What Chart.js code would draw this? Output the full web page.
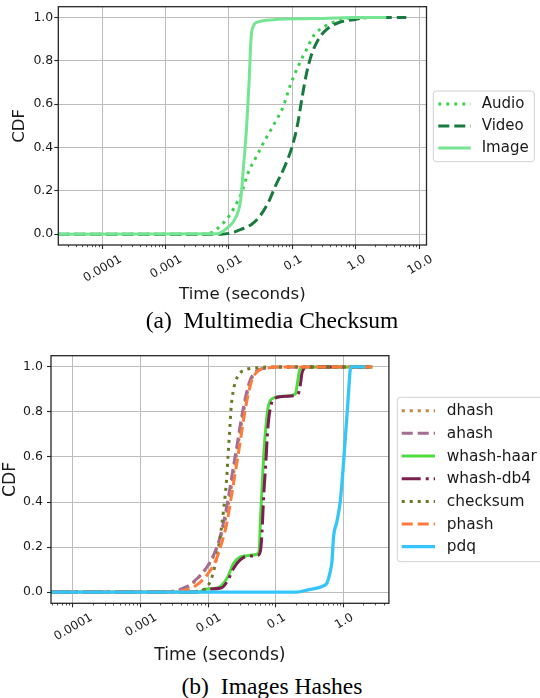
<!DOCTYPE html>
<html><head><meta charset="utf-8">
<script src="https://cdn.jsdelivr.net/npm/chart.js@4.4.1/dist/chart.umd.min.js"></script>
<style>
html,body{margin:0;padding:0;background:#fff;width:540px;height:698px;overflow:hidden;}
.wrap{position:absolute;left:0;width:540px;}
.cap{position:absolute;left:0;width:544px;text-align:center;font-family:'Liberation Serif','Times New Roman',serif;font-size:23.5px;line-height:24px;color:#000;white-space:nowrap;}
</style></head><body>
<div class="wrap" style="top:0;height:310px"><canvas id="c1" width="540" height="310"></canvas></div>
<div class="wrap" style="top:340px;height:330px"><canvas id="c2" width="540" height="330"></canvas></div>
<div class="cap" style="top:308px"><span style="margin-right:6px">(a)</span> Multimedia Checksum</div>
<div class="cap" style="top:674px"><span style="margin-right:6px">(b)</span> Images Hashes</div>
<script>
const FONT = "'DejaVu Sans', 'Liberation Sans', sans-serif";

// ---------- (a) Multimedia Checksum ----------
const seriesA = ['Audio', 'Video', 'Image'];
const audioTime = [0.0000205, 0.0045, 0.0054, 0.0064, 0.0092, 0.0117, 0.0158, 0.0201, 0.0273, 0.0347, 0.053, 0.0716, 0.0912, 0.123, 0.167, 0.213, 0.325, 0.5, 0.9, 3.0];
const audioCdf  = [0, 0, 0.008, 0.023, 0.069, 0.115, 0.192, 0.284, 0.361, 0.42, 0.515, 0.59, 0.683, 0.776, 0.853, 0.914, 0.96, 0.983, 0.998, 1.0];
const videoTime = [0.0000205, 0.0075, 0.011, 0.0158, 0.0228, 0.0308, 0.0416, 0.054, 0.0762, 0.0994, 0.119, 0.14, 0.163, 0.196, 0.255, 0.346, 0.526, 0.906, 1.5, 6.2];
const videoCdf  = [0, 0, 0.006, 0.023, 0.046, 0.084, 0.146, 0.223, 0.315, 0.407, 0.5, 0.622, 0.73, 0.822, 0.899, 0.945, 0.976, 0.99, 1.0, 1.0];
const imageTime = [0.0000205, 0.0065, 0.0095, 0.0124, 0.0153, 0.0168, 0.019, 0.0207, 0.0222, 0.0241, 0.0289, 0.05, 0.21, 1.0, 3.0];
const imageCdf  = [0, 0.002, 0.03, 0.07, 0.16, 0.3, 0.5, 0.7, 0.9, 0.96, 0.98, 0.99, 0.995, 1.0, 1.0];
const xTickValuesA = [0.0001, 0.001, 0.01, 0.1, 1, 10];
const xTickLabelsA = ['0.0001', '0.001', '0.01', '0.1', '1.0', '10.0'];

// ---------- (b) Images Hashes ----------
const seriesB = ['dhash', 'ahash', 'whash-haar', 'whash-db4', 'checksum', 'phash', 'pdq'];
const dhashTime = [0.0000477, 0.0022, 0.0042, 0.0058, 0.0079, 0.0112, 0.0145, 0.0177, 0.0207, 0.0241, 0.0277, 0.0321, 0.0374, 0.0432, 0.054, 0.076, 0.11, 2.66];
const dhashCdf  = [0, 0, 0.01, 0.035, 0.08, 0.14, 0.225, 0.314, 0.42, 0.54, 0.655, 0.773, 0.877, 0.944, 0.984, 0.996, 1.0, 1.0];
const ahashTime = [0.0000477, 0.002, 0.0035, 0.0049, 0.00615, 0.00863, 0.01146, 0.01436, 0.017, 0.0202, 0.0234, 0.0268, 0.031, 0.0363, 0.042, 0.0527, 0.074, 0.104, 2.66];
const ahashCdf  = [0, 0, 0.008, 0.025, 0.047, 0.092, 0.151, 0.225, 0.314, 0.433, 0.551, 0.655, 0.773, 0.877, 0.944, 0.984, 0.996, 1.0, 1.0];
const haarTime  = [0.0000477, 0.0075, 0.0088, 0.0125, 0.0152, 0.0191, 0.0239, 0.030, 0.0421, 0.054, 0.0571, 0.059, 0.0625, 0.0662, 0.0725, 0.0784, 0.0929, 0.13, 0.194, 0.21, 0.225, 0.257, 2.66];
const haarCdf   = [0, 0, 0.012, 0.016, 0.025, 0.062, 0.129, 0.156, 0.163, 0.169, 0.196, 0.314, 0.462, 0.61, 0.759, 0.833, 0.862, 0.87, 0.88, 0.936, 0.988, 1.0, 1.0];
const db4Time   = [0.0000477, 0.0075, 0.009, 0.0155, 0.0191, 0.0239, 0.030, 0.0376, 0.054, 0.059, 0.0625, 0.0662, 0.0708, 0.0755, 0.0829, 0.0979, 0.146, 0.21, 0.23, 0.243, 0.27, 0.3, 2.66];
const db4Cdf    = [0, 0, 0.012, 0.018, 0.047, 0.107, 0.144, 0.159, 0.163, 0.181, 0.27, 0.433, 0.566, 0.714, 0.818, 0.862, 0.87, 0.877, 0.921, 0.973, 0.996, 1.0, 1.0];
const checksumTime = [0.0000477, 0.006, 0.00728, 0.00914, 0.01146, 0.0136, 0.0152, 0.017, 0.0186, 0.0197, 0.0209, 0.0218, 0.0234, 0.0268, 0.0336, 0.0528, 0.074, 2.66];
const checksumCdf  = [0, 0, 0.005, 0.015, 0.07, 0.166, 0.255, 0.373, 0.49, 0.61, 0.73, 0.818, 0.892, 0.954, 0.985, 0.996, 1.0, 1.0];
const phashTime = [0.0000477, 0.0025, 0.0049, 0.00689, 0.00967, 0.0128, 0.0161, 0.0191, 0.0218, 0.0253, 0.0293, 0.0336, 0.0389, 0.0446, 0.0558, 0.0783, 0.116, 2.66];
const phashCdf  = [0, 0, 0.01, 0.033, 0.077, 0.136, 0.225, 0.314, 0.418, 0.536, 0.655, 0.773, 0.877, 0.944, 0.984, 0.996, 1.0, 1.0];
const pdqTime   = [0.0000477, 0.205, 0.288, 0.507, 0.568, 0.636, 0.673, 0.712, 0.798, 0.893, 0.977, 1.06, 1.16, 1.28, 2.08];
const pdqCdf    = [0, 0, 0.009, 0.028, 0.04, 0.092, 0.136, 0.247, 0.314, 0.403, 0.536, 0.684, 0.847, 1.0, 1.0];
const xTickValuesB = [0.0001, 0.001, 0.01, 0.1, 1];
const xTickLabelsB = ['0.0001', '0.001', '0.01', '0.1', '1.0'];

const yTickValues = [0, 0.2, 0.4, 0.6, 0.8, 1.0];
const yTickLabels = ['0.0', '0.2', '0.4', '0.6', '0.8', '1.0'];

function pts(xs, ys) { return xs.map((x, i) => ({ x: x, y: ys[i] })); }
function minorTicks(min, max) {
  const out = [];
  for (let n = Math.floor(Math.log10(min)); n <= Math.ceil(Math.log10(max)); n++) {
    for (let k = 2; k <= 9; k++) { const v = k * Math.pow(10, n); if (v >= min && v <= max) out.push(v); }
  }
  return out;
}
function zeroPad(s) { s.paddingLeft = 0; s.paddingRight = 0; s.paddingTop = 0; s.paddingBottom = 0; }

const DOT = [3, 5], DASH = [11, 5], DASHDOT = [19, 5, 3, 5];

const framePlugin = {
  id: 'frame',
  afterDatasetsDraw(chart) {
    const { ctx, chartArea: a } = chart;
    ctx.save(); ctx.strokeStyle = '#262626'; ctx.lineWidth = 1.3; ctx.setLineDash([]);
    ctx.strokeRect(a.left, a.top, a.right - a.left, a.bottom - a.top); ctx.restore();
  }
};
const xLabelPlugin = {
  id: 'xlabels',
  afterDraw(chart, args, o) {
    const sc = chart.scales.x, ctx = chart.ctx, ang = 30 * Math.PI / 180;
    ctx.save(); ctx.font = o.size + 'px ' + FONT; ctx.fillStyle = '#1a1a1a';
    ctx.textAlign = 'center'; ctx.textBaseline = 'alphabetic';
    o.values.forEach((v, i) => {
      const px = sc.getPixelForValue(v);
      const w = ctx.measureText(o.labels[i]).width;
      const h = o.size * 0.73;
      const H = w * Math.sin(ang) + h * Math.cos(ang);
      ctx.save(); ctx.translate(px, sc.top + o.gap + H / 2); ctx.rotate(-ang);
      ctx.fillText(o.labels[i], 0, h / 2); ctx.restore();
    });
    ctx.restore();
  }
};
const legendPlugin = {
  id: 'lineLegend',
  afterDraw(chart, args, o) {
    const ctx = chart.ctx; ctx.save();
    const r = 3, x0 = o.box[0], y0 = o.box[1], x1 = o.box[2], y1 = o.box[3];
    ctx.beginPath();
    ctx.moveTo(x0 + r, y0); ctx.lineTo(x1 - r, y0); ctx.arcTo(x1, y0, x1, y0 + r, r);
    ctx.lineTo(x1, y1 - r); ctx.arcTo(x1, y1, x1 - r, y1, r); ctx.lineTo(x0 + r, y1);
    ctx.arcTo(x0, y1, x0, y1 - r, r); ctx.lineTo(x0, y0 + r); ctx.arcTo(x0, y0, x0 + r, y0, r); ctx.closePath();
    ctx.fillStyle = 'rgba(255,255,255,0.85)'; ctx.fill();
    ctx.strokeStyle = '#d0d0d0'; ctx.lineWidth = 1; ctx.stroke();
    chart.data.datasets.forEach((ds, i) => {
      const y = o.firstRow + i * o.rowGap;
      ctx.beginPath(); ctx.setLineDash(ds.borderDash || []); ctx.lineCap = 'butt';
      ctx.lineWidth = ds.borderWidth; ctx.strokeStyle = ds.borderColor;
      ctx.moveTo(o.sampleX, y); ctx.lineTo(o.sampleX + o.sampleLen, y); ctx.stroke();
      ctx.setLineDash([]); ctx.fillStyle = '#1a1a1a'; ctx.font = o.size + 'px ' + FONT;
      ctx.textAlign = 'left'; ctx.textBaseline = 'middle';
      ctx.fillText(ds.label, o.textX, y + 0.5);
    });
    ctx.restore();
  }
};

function makeChart(id, datasets, g) {
  const n = datasets.length;
  datasets.forEach((d, i) => { d.order = n - i; d.pointRadius = 0; d.fill = false; d.cubicInterpolationMode = 'monotone'; d.borderCapStyle = 'butt'; });
  return new Chart(document.getElementById(id), {
    type: 'line',
    data: { datasets: datasets },
    plugins: [framePlugin, xLabelPlugin, legendPlugin],
    options: {
      responsive: false, animation: false, devicePixelRatio: 1,
      layout: { padding: { top: g.top, right: g.right, left: 0, bottom: 0 } },
      plugins: {
        legend: { display: false }, tooltip: { enabled: false },
        xlabels: { values: g.tickValues, labels: g.tickLabels, size: 12, gap: g.labelGap },
        lineLegend: g.legend
      },
      scales: {
        x: {
          type: 'logarithmic', position: 'bottom', min: g.xmin, max: g.xmax, bounds: 'data', weight: 1,
          afterBuildTicks: s => { s.ticks = g.tickValues.map(v => ({ value: v })); },
          afterFit: s => { s.height = g.xAxisH; zeroPad(s); },
          ticks: { display: false, autoSkip: false },
          grid: { color: '#bcbcbc', lineWidth: 1, drawTicks: true, tickLength: 4, tickColor: '#262626', tickWidth: 1.1 },
          border: { display: false },
          title: { display: true, text: 'Time (seconds)', color: '#1a1a1a', font: { family: FONT, size: g.titleSize }, padding: { top: 0, bottom: g.xTitlePad } }
        },
        xMinor: {
          type: 'logarithmic', position: 'bottom', min: g.xmin, max: g.xmax, bounds: 'data', weight: 0,
          afterBuildTicks: s => { s.ticks = minorTicks(g.xmin, g.xmax).map(v => ({ value: v })); },
          afterFit: s => { s.height = 0; zeroPad(s); },
          ticks: { display: false, autoSkip: false },
          grid: { drawOnChartArea: false, drawTicks: true, tickLength: 2.2, tickColor: '#262626', tickWidth: 0.8 },
          border: { display: false }
        },
        y: {
          type: 'linear', min: -0.05, max: 1.05, bounds: 'data',
          afterBuildTicks: s => { s.ticks = yTickValues.map(v => ({ value: v })); },
          afterFit: s => { s.width = g.yAxisW; zeroPad(s); },
          ticks: { callback: (v, i) => yTickLabels[i], color: '#1a1a1a', font: { family: FONT, size: 12.5 }, padding: g.yTickPad, autoSkip: false },
          grid: { color: '#bcbcbc', lineWidth: 1, drawTicks: true, tickLength: 4, tickColor: '#262626', tickWidth: 1.1 },
          border: { display: false },
          title: { display: true, text: 'CDF', color: '#1a1a1a', font: { family: FONT, size: g.titleSize }, padding: { top: g.yTitlePad, bottom: 0 } }
        }
      }
    }
  });
}

makeChart('c1', [
  { label: seriesA[0], data: pts(audioTime, audioCdf), borderColor: '#3ccf4e', borderWidth: 3, borderDash: DOT },
  { label: seriesA[1], data: pts(videoTime, videoCdf), borderColor: '#187a3e', borderWidth: 3, borderDash: DASH },
  { label: seriesA[2], data: pts(imageTime, imageCdf), borderColor: '#74e592', borderWidth: 3 }
], {
  top: 6.7, right: 113.5, xmin: 0.0000205, xmax: 12.9, xAxisH: 65, yAxisW: 58.3,
  tickValues: xTickValuesA, tickLabels: xTickLabelsA, labelGap: 8.5,
  titleSize: 16.6, xTitlePad: 5, yTitlePad: 9.3, yTickPad: 1,
  legend: { box: [433.3, 91, 534.3, 161.7], firstRow: 104, rowGap: 22, sampleX: 438.3, sampleLen: 32.4, textX: 481.7, size: 15 }
});

makeChart('c2', [
  { label: seriesB[0], data: pts(dhashTime, dhashCdf), borderColor: '#c8853f', borderWidth: 3, borderDash: DOT },
  { label: seriesB[1], data: pts(ahashTime, ahashCdf), borderColor: '#a56d90', borderWidth: 3, borderDash: DASH },
  { label: seriesB[2], data: pts(haarTime, haarCdf), borderColor: '#4fdc3f', borderWidth: 3 },
  { label: seriesB[3], data: pts(db4Time, db4Cdf), borderColor: '#7c1f50', borderWidth: 3, borderDash: DASHDOT },
  { label: seriesB[4], data: pts(checksumTime, checksumCdf), borderColor: '#6b7a26', borderWidth: 3, borderDash: DOT },
  { label: seriesB[5], data: pts(phashTime, phashCdf), borderColor: '#ff7b3a', borderWidth: 3, borderDash: DASH },
  { label: seriesB[6], data: pts(pdqTime, pdqCdf), borderColor: '#36c5fb', borderWidth: 3.3 }
], {
  top: 15.7, right: 151.1, xmin: 0.0000477, xmax: 4.67, xAxisH: 66.7, yAxisW: 51,
  tickValues: xTickValuesB, tickLabels: xTickLabelsB, labelGap: 8.5,
  titleSize: 17.2, xTitlePad: 4.6, yTitlePad: 0, yTickPad: 4,
  legend: { box: [397.3, 57.3, 548, 221.7], firstRow: 70.7, rowGap: 22.67, sampleX: 401.7, sampleLen: 33.3, textX: 446.7, size: 15.4 }
});
</script>
</body></html>
